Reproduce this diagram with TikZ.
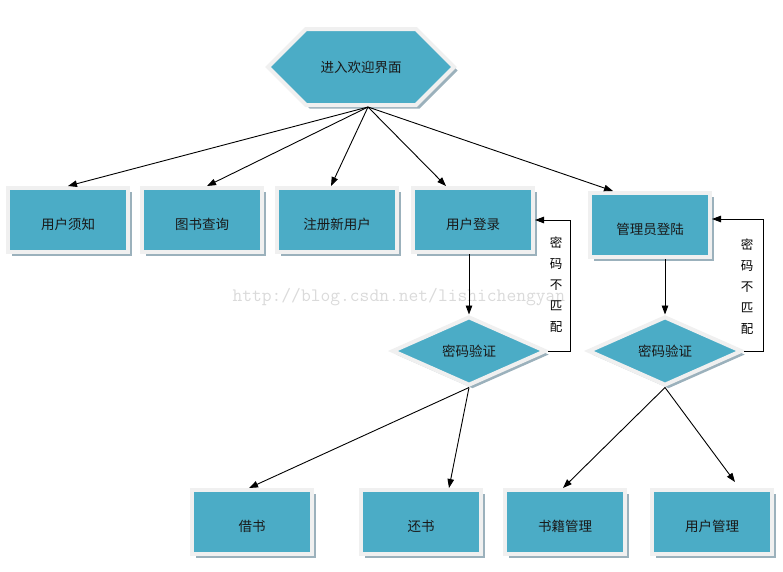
\documentclass[tikz,border=0pt]{standalone}
\usepackage{fontspec}
\setmainfont{Noto Sans CJK SC}
\usetikzlibrary{positioning}
\usetikzlibrary{arrows.meta}
\usetikzlibrary{shapes.geometric,shapes.symbols}
\usetikzlibrary{shadows}
\usetikzlibrary{calc}
\definecolor{boxteal}{RGB}{75,172,198}
\definecolor{boxrim}{RGB}{240,240,240}
\definecolor{boxshade}{RGB}{155,177,188}
\definecolor{markgray}{RGB}{218,218,218}

\begin{document}
\begin{tikzpicture}[x=1pt, y=-1pt,
    font=\fontsize{13.5}{15}\selectfont,
    panel/.style={fill=boxteal, draw=boxrim, line width=4pt, text=black!90,
       drop shadow={shadow xshift=3.5pt, shadow yshift=-3.5pt, fill=boxshade, opacity=1}},
    box/.style={panel, rectangle, minimum width=120pt, minimum height=64pt, inner sep=0pt,
       text height=19pt, text depth=0pt},
    check/.style={panel, diamond, aspect=2.3, minimum width=154pt, minimum height=69pt, inner sep=0pt},
    entry/.style={panel, signal, signal to=east and west, minimum width=186pt, minimum height=76pt},
    arr/.style={-{Triangle[length=9pt,width=6.5pt]}, line width=0.9pt},
    vlab/.style={font=\fontsize{12.5}{14}\selectfont, inner sep=0pt}]
\useasboundingbox (0,0) rectangle (783,571);

% watermark
\node[text=markgray, anchor=west, font=\ttfamily\fontsize{19}{20}\selectfont] (mark) at (229,297) {http://blog.csdn.net/lishichengyan};

% top
\node[entry] (welcome) at (361,67) {进入欢迎界面};
\coordinate (hub) at ([xshift=7pt]welcome.south);

% first row
\foreach \name/\x/\lab in {notice/68/用户须知, search/202/图书查询, signup/337/注册新用户, ulogin/473/用户登录}
   \node[box] (\name) at (\x,220) {\lab};
\node[box] (alogin) at (650,225) {管理员登陆};

% checks
\node[check] (check1) at (469,351) {密码验证};
\node[check] (check2) at (665,351) {密码验证};
\foreach \ch [count=\c] in {密,码,不,匹,配} {
   \node[vlab] (nomatch1\c) at (556,222+21*\c) {\ch};
   \node[vlab] (nomatch2\c) at (747,224+21*\c) {\ch};
}

% last row
\foreach \name/\x/\lab in {borrow/252/借书, giveback/421/还书, bookadm/565/书籍管理, useradm/712/用户管理}
   \node[box] (\name) at (\x,522) {\lab};

\foreach \t/\dx in {notice/0, search/5, signup/-6, ulogin/-27, alogin/-37}
   \draw[arr] (hub) -- ([xshift=\dx pt]\t.north);

\draw[arr] (ulogin.south -| check1.north) -- (check1.north);
\draw[arr] (alogin.south -| check2.north) -- (check2.north);
\draw[arr] (check1.east) -- ++(22,0) |- (ulogin.east);
\draw[arr] (check2.east) -- ++(19,0) |- ([yshift=6pt]alogin.east);

\draw[arr] (check1.south) -- ([xshift=-3pt]borrow.north);
\draw[arr] (check1.south) -- ([xshift=28pt]giveback.north);
\draw[arr] (check2.south) -- ([xshift=-2pt]bookadm.north);
\draw[arr] (check2.south) -- ([xshift=23pt,yshift=6pt]useradm.north);
\end{tikzpicture}
\end{document}
